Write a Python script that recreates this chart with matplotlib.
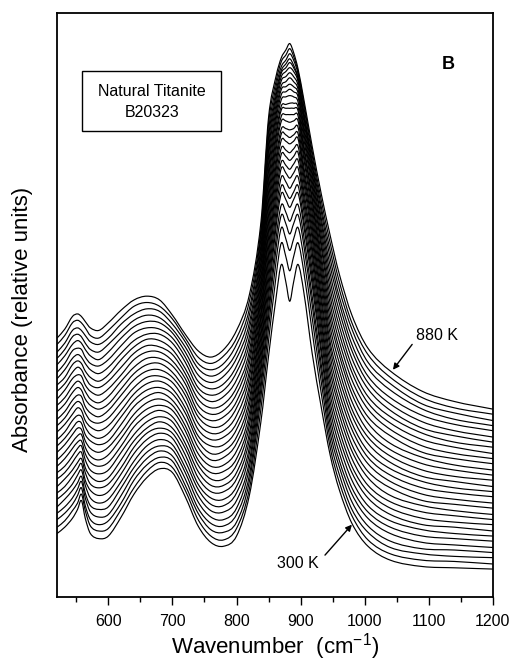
import numpy as np
import matplotlib
matplotlib.use('Agg')
import matplotlib.pyplot as plt
from matplotlib.patches import Rectangle, PathPatch
from matplotlib.path import Path

plt.rcParams['font.family'] = ['Liberation Sans', 'DejaVu Sans']
plt.rcParams['mathtext.fontset'] = 'custom'
plt.rcParams['mathtext.rm'] = 'Liberation Sans'

# temperatures of the 30 spectra, bottom (300 K) to top (880 K)
temps = [300, 320, 340, 360, 380, 400, 420, 440, 460, 480,
         500, 520, 540, 560, 580, 600, 620, 640, 660, 680,
         700, 720, 740, 760, 780, 800, 820, 840, 860, 880]

# sampled wavenumbers (cm-1)
wavenumber = [520, 532, 544, 552, 558, 564, 572, 585, 600, 620,
              640, 660, 680, 700, 720, 740, 760, 780, 800, 820,
              838, 850, 862, 870, 877, 883, 889, 896, 905, 918,
              932, 946, 960, 980, 1005, 1040, 1090, 1140, 1200]

# stacked absorbance (relative units), one row per wavenumber,
# one column per temperature (300 K first)
absorbance = [
    [50, 55, 61, 66, 71, 77, 82, 87, 93, 98, 103, 108, 114, 119, 124, 130, 135, 140, 146, 151, 156, 162, 167, 172, 177, 183, 188, 193, 199, 204],
    [55, 60, 66, 71, 77, 82, 87, 93, 98, 103, 109, 114, 120, 125, 130, 136, 141, 146, 152, 157, 163, 168, 173, 179, 184, 190, 195, 200, 206, 211],
    [62, 68, 73, 78, 84, 89, 95, 100, 106, 111, 117, 122, 128, 133, 139, 144, 150, 155, 161, 166, 172, 177, 183, 188, 194, 199, 205, 210, 216, 221],
    [69, 74, 80, 85, 90, 96, 101, 106, 112, 117, 122, 127, 133, 138, 143, 149, 154, 159, 165, 170, 175, 181, 186, 191, 196, 202, 207, 212, 218, 223],
    [76, 81, 86, 91, 95, 100, 105, 109, 114, 119, 123, 128, 132, 137, 142, 147, 152, 158, 163, 168, 174, 179, 184, 189, 195, 200, 205, 210, 216, 221],
    [62, 68, 72, 78, 82, 88, 92, 98, 102, 108, 113, 118, 123, 128, 134, 139, 145, 150, 156, 162, 167, 173, 178, 184, 189, 195, 200, 206, 212, 217],
    [50, 56, 61, 67, 72, 78, 84, 89, 95, 100, 106, 111, 117, 123, 128, 134, 139, 145, 151, 156, 162, 167, 173, 179, 184, 190, 195, 201, 206, 212],
    [46, 52, 57, 63, 69, 74, 80, 86, 91, 97, 103, 108, 114, 120, 125, 131, 137, 142, 148, 153, 159, 165, 170, 176, 182, 187, 193, 199, 204, 210],
    [48, 54, 60, 65, 71, 77, 83, 89, 94, 100, 106, 112, 118, 123, 129, 135, 141, 147, 152, 158, 164, 170, 175, 181, 187, 193, 199, 204, 210, 216],
    [63, 69, 74, 80, 86, 91, 97, 102, 108, 114, 119, 125, 130, 136, 142, 147, 153, 159, 164, 170, 175, 181, 187, 192, 198, 204, 209, 215, 220, 226],
    [81, 86, 92, 97, 102, 107, 113, 118, 123, 128, 134, 139, 144, 150, 155, 160, 165, 171, 176, 181, 187, 192, 197, 202, 208, 213, 218, 223, 229, 234],
    [94, 99, 104, 109, 114, 119, 124, 129, 133, 138, 143, 148, 153, 158, 163, 168, 173, 178, 183, 188, 193, 198, 203, 207, 212, 217, 222, 227, 232, 237],
    [101, 106, 110, 115, 119, 124, 129, 133, 138, 142, 147, 151, 156, 161, 165, 170, 174, 179, 184, 188, 193, 197, 202, 207, 211, 216, 220, 225, 229, 234],
    [98, 102, 107, 111, 116, 120, 125, 129, 133, 138, 142, 147, 151, 155, 160, 164, 169, 173, 177, 182, 186, 191, 195, 200, 204, 208, 211, 215, 219, 222],
    [79, 84, 88, 93, 98, 102, 107, 112, 117, 121, 126, 131, 135, 140, 145, 149, 154, 159, 163, 168, 172, 176, 180, 185, 189, 193, 197, 201, 204, 207],
    [56, 61, 66, 70, 75, 80, 85, 89, 94, 99, 104, 108, 113, 118, 123, 127, 132, 137, 142, 146, 151, 156, 161, 165, 170, 175, 180, 184, 189, 194],
    [43, 48, 53, 58, 63, 68, 73, 78, 83, 88, 93, 98, 103, 108, 113, 119, 124, 129, 134, 139, 144, 149, 154, 159, 164, 169, 174, 179, 184, 189],
    [40, 45, 51, 56, 61, 67, 72, 77, 83, 88, 93, 99, 104, 110, 115, 120, 126, 131, 136, 142, 147, 152, 158, 163, 168, 174, 179, 184, 190, 195],
    [48, 54, 59, 65, 70, 76, 82, 87, 93, 98, 104, 109, 115, 121, 126, 132, 137, 143, 149, 154, 160, 165, 171, 177, 182, 188, 193, 199, 204, 210],
    [80, 85, 91, 96, 102, 107, 113, 118, 124, 129, 135, 140, 145, 151, 156, 162, 167, 173, 178, 184, 189, 194, 200, 205, 211, 216, 222, 227, 233, 238],
    [138, 148, 157, 164, 170, 177, 182, 188, 194, 199, 205, 210, 216, 221, 225, 231, 236, 241, 245, 250, 255, 260, 264, 269, 273, 277, 282, 286, 290, 295],
    [190, 202, 212, 221, 228, 236, 243, 250, 257, 264, 270, 276, 283, 289, 295, 301, 307, 313, 319, 325, 330, 336, 341, 347, 352, 357, 362, 367, 373, 378],
    [237, 254, 266, 276, 284, 293, 299, 306, 313, 319, 325, 331, 337, 342, 347, 353, 358, 363, 367, 372, 377, 381, 385, 389, 393, 396, 399, 403, 407, 411],
    [262, 279, 291, 301, 309, 318, 324, 331, 338, 343, 349, 354, 360, 365, 369, 375, 379, 384, 387, 392, 396, 400, 403, 407, 410, 413, 415, 418, 422, 425],
    [248, 268, 282, 294, 303, 313, 319, 327, 334, 340, 347, 352, 359, 364, 369, 375, 380, 385, 388, 394, 398, 402, 406, 410, 414, 417, 420, 423, 427, 431],
    [233, 257, 273, 286, 296, 307, 314, 322, 330, 337, 344, 350, 357, 362, 368, 374, 380, 385, 389, 395, 400, 404, 409, 413, 417, 421, 424, 428, 432, 436],
    [248, 268, 282, 294, 303, 313, 319, 327, 334, 341, 347, 353, 359, 364, 369, 375, 380, 385, 389, 394, 398, 402, 406, 410, 414, 417, 419, 423, 426, 429],
    [262, 279, 291, 301, 309, 318, 324, 331, 338, 344, 350, 355, 361, 365, 370, 375, 379, 383, 386, 390, 394, 397, 400, 403, 406, 408, 409, 412, 414, 416],
    [240, 256, 267, 277, 284, 292, 297, 304, 310, 315, 320, 326, 331, 335, 339, 345, 349, 353, 356, 361, 365, 368, 371, 375, 378, 380, 382, 386, 389, 392],
    [192, 209, 220, 230, 237, 246, 252, 258, 265, 271, 276, 282, 287, 292, 297, 302, 307, 312, 315, 320, 324, 328, 332, 335, 339, 341, 344, 348, 351, 355],
    [150, 161, 170, 178, 184, 192, 197, 204, 210, 216, 221, 227, 233, 238, 244, 250, 255, 260, 265, 270, 276, 280, 285, 290, 295, 299, 304, 308, 313, 318],
    [112, 118, 124, 130, 136, 142, 148, 154, 160, 166, 172, 178, 184, 190, 196, 201, 207, 213, 219, 225, 231, 237, 243, 249, 255, 261, 267, 273, 279, 285],
    [85, 91, 97, 103, 108, 114, 120, 126, 132, 138, 144, 150, 155, 161, 167, 173, 179, 185, 191, 196, 202, 208, 214, 220, 226, 232, 237, 243, 249, 255],
    [58, 64, 69, 75, 81, 86, 92, 98, 103, 109, 115, 120, 126, 132, 137, 143, 148, 154, 160, 165, 171, 177, 182, 188, 194, 199, 205, 211, 216, 222],
    [40, 45, 51, 56, 62, 67, 72, 78, 83, 88, 94, 99, 105, 110, 115, 121, 126, 131, 137, 142, 148, 153, 158, 164, 169, 174, 180, 185, 191, 196],
    [29, 34, 39, 44, 50, 55, 60, 65, 70, 75, 80, 86, 91, 96, 101, 106, 111, 116, 121, 127, 132, 137, 142, 147, 152, 157, 163, 168, 173, 178],
    [24, 29, 34, 38, 43, 48, 53, 57, 62, 67, 72, 76, 81, 86, 91, 95, 100, 105, 110, 114, 119, 124, 129, 133, 138, 143, 148, 152, 157, 162],
    [23, 28, 32, 37, 41, 46, 50, 55, 59, 64, 68, 73, 77, 82, 86, 91, 95, 100, 104, 109, 113, 118, 122, 127, 131, 136, 140, 145, 149, 154],
    [22, 26, 31, 35, 39, 44, 48, 52, 57, 61, 65, 70, 74, 79, 83, 87, 92, 96, 100, 105, 109, 113, 118, 122, 126, 131, 135, 139, 144, 148],
]

major_ticks = [600, 700, 800, 900, 1000, 1100, 1200]
minor_ticks = [550, 650, 750, 850, 950, 1050, 1150]


def smooth_path(x, y):
    # cubic Bezier through every sample, tangents from neighbouring samples
    x = np.asarray(x, dtype=float)
    y = np.asarray(y, dtype=float)
    n = len(x)
    slope = np.empty(n)
    slope[0] = (y[1] - y[0]) / (x[1] - x[0])
    slope[-1] = (y[-1] - y[-2]) / (x[-1] - x[-2])
    slope[1:-1] = (y[2:] - y[:-2]) / (x[2:] - x[:-2])
    verts = [(x[0], y[0])]
    codes = [Path.MOVETO]
    for i in range(n - 1):
        dx = (x[i + 1] - x[i]) / 3
        verts += [(x[i] + dx, y[i] + slope[i] * dx),
                  (x[i + 1] - dx, y[i + 1] - slope[i + 1] * dx),
                  (x[i + 1], y[i + 1])]
        codes += [Path.CURVE4] * 3
    return Path(verts, codes)


fig = plt.figure(figsize=(5.14, 6.62), dpi=100)
ax = fig.add_axes([0.111, 0.0982, 0.848, 0.882])

curves = np.array(absorbance, dtype=float).T
for i, t in enumerate(temps):
    ax.add_patch(PathPatch(smooth_path(wavenumber, curves[i]), fill=False,
                           ec='black', lw=0.85))

ax.set_xlim(520, 1200)
ax.set_ylim(0, 460)
ax.set_xticks(major_ticks)
ax.set_xticks(minor_ticks, minor=True)
ax.set_yticks([])
ax.tick_params(axis='x', which='major', direction='out', length=6, width=1, labelsize=11.5, pad=6)
ax.tick_params(axis='x', which='minor', direction='out', length=3.5, width=1)
for s in ax.spines.values():
    s.set_linewidth(1.3)

ax.set_xlabel(r'Wavenumber  (cm$^{\mathregular{-1}}$)', fontsize=16)
ax.xaxis.set_label_coords(0.5, -0.0856)
ax.xaxis.label.set_va('center')
ax.set_ylabel('Absorbance (relative units)', fontsize=16)
ax.yaxis.set_label_coords(-0.080, 0.476)
ax.yaxis.label.set_va('center')

# sample box
ax.add_patch(Rectangle((0.0573, 0.798), 0.3187, 0.103, transform=ax.transAxes,
                       fc='white', ec='black', lw=1))
ax.text(0.218, 0.865, 'Natural Titanite', transform=ax.transAxes, ha='center', va='center', fontsize=11.5)
ax.text(0.218, 0.829, 'B20323', transform=ax.transAxes, ha='center', va='center', fontsize=11.5)
ax.text(0.897, 0.912, 'B', transform=ax.transAxes, ha='center', va='center', fontsize=13, weight='bold')

arr = dict(arrowstyle='-|>', color='black', lw=1, mutation_scale=9, shrinkA=0, shrinkB=0)
ax.annotate('', xy=(1044, 179), xytext=(1074, 199), arrowprops=arr)
ax.text(1113, 206, '880 K', ha='center', va='center', fontsize=11.5)
ax.annotate('', xy=(980, 57), xytext=(938, 33), arrowprops=arr)
ax.text(896, 26, '300 K', ha='center', va='center', fontsize=11.5)

fig.savefig('out.png', dpi=100)
